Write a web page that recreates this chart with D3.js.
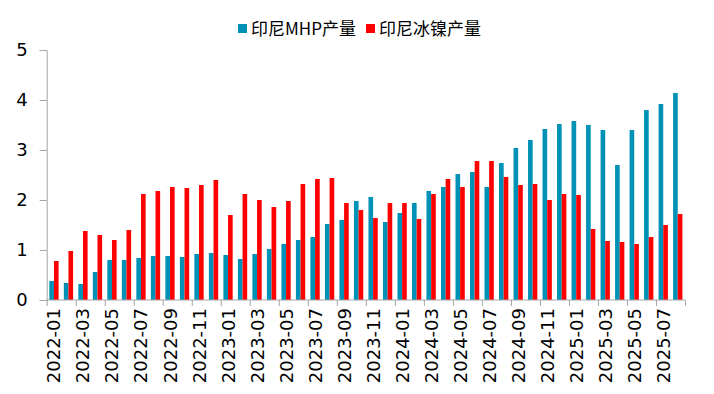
<!DOCTYPE html>
<meta charset="utf-8">
<script src="https://d3js.org/d3.v7.min.js"></script>
<body style="margin:0;background:#fff">
<div id="chart"></div>
</body>
<style>
text { font-family: 'DejaVu Sans', sans-serif; fill: #000; }
.legend text { font-family: 'Noto Sans CJK SC', sans-serif; }
</style>
<script>
// months 2022-01 .. 2025-08
var months = [];
for (var yr = 2022; yr <= 2025; yr++) {
  for (var m = 1; m <= 12; m++) {
    if (yr == 2025 && m > 8) break;
    months.push(yr + "-" + (m < 10 ? "0" + m : m));
  }
}
var seriesNames = ["印尼MHP产量", "印尼冰镍产量"];
var mhp = [0.38,0.34,0.32,0.56,0.80,0.80,0.84,0.88,0.88,0.86,0.92,0.94,
           0.90,0.82,0.92,1.02,1.12,1.20,1.26,1.52,1.60,1.98,2.06,1.56,
           1.74,1.94,2.18,2.26,2.52,2.56,2.26,2.74,3.04,3.20,3.42,3.52,
           3.58,3.50,3.40,2.70,3.40,3.80,3.92,4.14];
var matte = [0.78,0.98,1.38,1.30,1.20,1.40,2.12,2.18,2.26,2.24,2.30,2.40,
             1.70,2.12,2.00,1.86,1.98,2.32,2.42,2.44,1.94,1.80,1.64,1.94,
             1.94,1.62,2.12,2.42,2.26,2.78,2.78,2.46,2.30,2.32,2.00,2.12,
             2.10,1.42,1.18,1.16,1.12,1.26,1.50,1.72];
var yTicks = [0, 1, 2, 3, 4, 5];
var colors = ["#0091B7", "#FF0000"];

var W = 714, H = 394;
var margin = {top: 50, right: 29, bottom: 94, left: 46.7};
var width = W - margin.left - margin.right,
    height = H - margin.top - margin.bottom;

var svg = d3.select("#chart").append("svg")
    .attr("width", W).attr("height", H)
  .append("g")
    .attr("transform", "translate(" + margin.left + "," + margin.top + ")");

var x0 = d3.scaleBand().domain(months).range([0, width])
    .paddingInner(0.36).paddingOuter(0.18);
var x1 = d3.scaleBand().domain(seriesNames).range([0, x0.bandwidth()]);
var xi = d3.scaleLinear().domain([0, months.length]).range([0, width]);
var y = d3.scaleLinear().domain([0, 5]).range([height, 0]);

// bars
var rows = months.map(function(d, i) { return {m: d, v: [mhp[i], matte[i]]}; });
var grp = svg.selectAll("g.month").data(rows).enter().append("g")
    .attr("transform", function(d) { return "translate(" + x0(d.m) + ",0)"; });
grp.selectAll("rect").data(function(d) { return d.v; }).enter().append("rect")
    .attr("x", function(d, i) { return x1(seriesNames[i]); })
    .attr("y", function(d) { return y(d); })
    .attr("width", x1.bandwidth())
    .attr("height", function(d) { return height - y(d); })
    .attr("fill", function(d, i) { return colors[i]; });

// y axis
var ya = svg.append("g").call(d3.axisLeft(y).tickValues(yTicks).tickFormat(d3.format("d")).tickSize(7).tickPadding(12));
ya.selectAll("text").style("font-size", "18px").style("font-family", "'DejaVu Sans', sans-serif");
ya.selectAll("line, path").attr("stroke", "#A6A6A6");

// x axis: ticks every 2 months at category boundaries
var xa = svg.append("g").attr("transform", "translate(0," + height + ")")
    .call(d3.axisBottom(xi).tickValues(d3.range(0, months.length + 1, 2)).tickSize(6).tickFormat(""));
xa.selectAll("line, path").attr("stroke", "#A6A6A6");
xa.select("path").attr("d", "M0,0H" + width);

svg.append("g").selectAll("text")
  .data(months.filter(function(d, i) { return i % 2 == 0; }))
  .enter().append("text")
    .attr("transform", function(d) {
      return "translate(" + (x0(d) + x0.bandwidth() / 2 + 6.5) + "," + (height + 8) + ") rotate(-90)";
    })
    .attr("text-anchor", "end")
    .style("font-size", "18px")
    .text(function(d) { return d; });

// legend
var lg = d3.select("svg").append("g").attr("class", "legend");
var lx = [238, 366];
seriesNames.forEach(function(s, i) {
  lg.append("rect").attr("x", lx[i]).attr("y", 24).attr("width", 9).attr("height", 9).attr("fill", colors[i]);
  lg.append("text").attr("x", lx[i] + 13).attr("y", 35).style("font-size", "17px").text(s);
});
</script>
